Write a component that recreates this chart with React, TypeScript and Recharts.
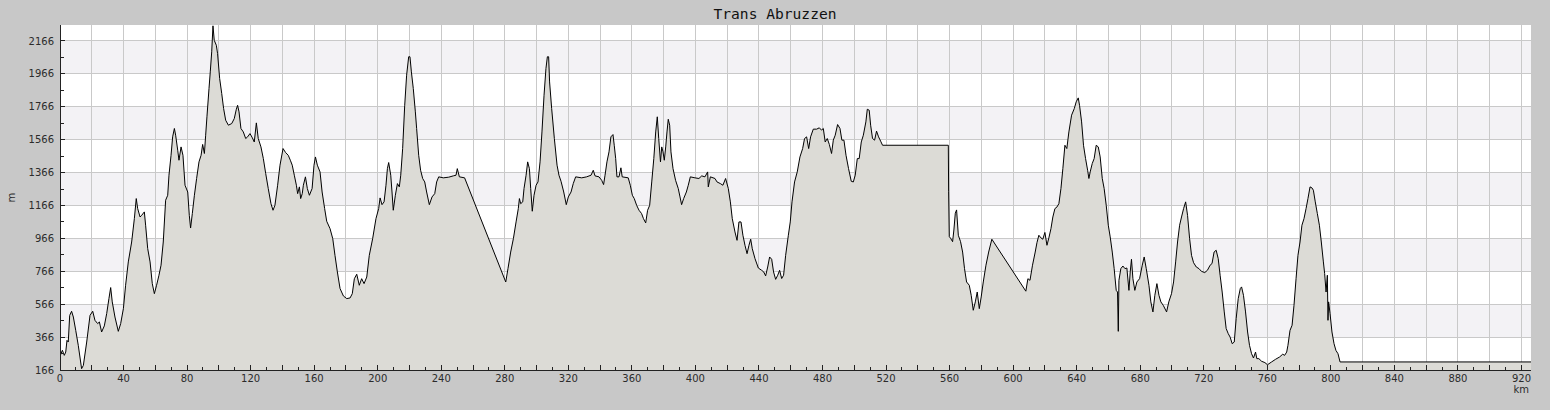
import React from 'react';
import { ComposedChart, Area, XAxis, YAxis, ReferenceArea, ReferenceLine, Label } from 'recharts';

// elevation profile: [distance km, elevation m]
const profile: [number, number][] = [
  [0, 250], [1.5, 286], [2.7, 255], [3.6, 275], [4.4, 346], [5.2, 336], [6.1, 498], [7.3, 523], [8.4, 488], [9.9, 407],
  [11.5, 316], [13.6, 174], [14.7, 194], [16.8, 336], [18.9, 498], [20.6, 523], [22.0, 468], [23.7, 448], [24.8, 458], [26.2, 397],
  [27.9, 434], [29.4, 509], [30.8, 600], [31.9, 667], [32.9, 580], [34.6, 488], [36.7, 401], [38.2, 448], [39.9, 539], [41.3, 681],
  [43.0, 823], [45.1, 944], [46.8, 1086], [48.0, 1208], [48.9, 1147], [50.4, 1096], [51.4, 1106], [53.1, 1127], [53.9, 1046], [55.2, 904],
  [56.7, 823], [58.1, 691], [59.4, 630], [60.8, 681], [62.3, 742], [63.6, 803], [65.0, 944], [66.5, 1198], [67.8, 1228], [68.6, 1350],
  [69.9, 1471], [70.9, 1583], [72.0, 1634], [72.8, 1593], [74.1, 1502], [74.9, 1441], [76.2, 1522], [77.4, 1471], [78.7, 1289], [80.4, 1248],
  [81.4, 1106], [82.2, 1029], [83.3, 1117], [84.6, 1228], [86.0, 1330], [87.5, 1431], [88.8, 1471], [89.8, 1537], [90.9, 1482], [91.7, 1593],
  [92.5, 1705], [93.8, 1877], [94.6, 1978], [95.5, 2100], [96.3, 2258], [97.1, 2170], [98.4, 2140], [99.2, 2089], [100.5, 1938], [101.8, 1847],
  [103.0, 1755], [104.3, 1684], [106.0, 1654], [108.1, 1664], [109.7, 1694], [111.0, 1751], [111.8, 1775], [112.7, 1735], [113.9, 1634], [115.4, 1613],
  [116.9, 1573], [118.1, 1583], [119.6, 1603], [121.1, 1577], [122.3, 1552], [123.6, 1668], [124.8, 1573], [126.5, 1522], [128.0, 1451], [129.5, 1360],
  [131.1, 1269], [132.8, 1177], [134.1, 1137], [135.3, 1167], [137.0, 1289], [138.5, 1411], [140.4, 1512], [142.0, 1488], [143.7, 1471], [145.0, 1441],
  [146.2, 1411], [147.5, 1350], [148.8, 1289], [149.6, 1238], [150.7, 1279], [151.5, 1208], [152.5, 1238], [153.2, 1289], [154.5, 1340], [155.7, 1269],
  [157, 1228], [158.7, 1269], [159.9, 1411], [160.8, 1461], [162, 1411], [163.7, 1370], [165, 1248], [166.6, 1147], [167.9, 1070], [170, 1025],
  [171.7, 964], [173.1, 863], [174.6, 762], [176.3, 661], [178.4, 616], [180.5, 600], [182.6, 604], [184, 630], [185.3, 721], [186.8, 748],
  [188.4, 681], [189.9, 721], [191.4, 691], [193.1, 731], [194.7, 863], [196.8, 964], [198.9, 1086], [200.6, 1147], [201.5, 1212], [202.7, 1171],
  [204, 1188], [205.2, 1289], [206.1, 1390], [206.9, 1427], [208.2, 1350], [209, 1248], [209.8, 1137], [211.1, 1228], [212.4, 1299], [213.6, 1279],
  [214.5, 1350], [215.7, 1512], [217, 1775], [218.2, 1958], [219.5, 2070], [220.3, 2070], [221.2, 1978], [222.4, 1877], [223.7, 1735], [224.5, 1634],
  [225.8, 1471], [227, 1380], [228.3, 1330], [229.6, 1309], [230.8, 1248], [232.5, 1171], [234.2, 1218], [235.9, 1238], [237.1, 1309], [238.4, 1340],
  [241.3, 1334], [244.7, 1338], [247.6, 1346], [249.3, 1350], [250.1, 1390], [251.4, 1340], [254.7, 1334], [280.6, 701], [282, 782], [283.7, 883],
  [285.4, 964], [287.1, 1066], [288.5, 1147], [289.2, 1208], [290, 1177], [291.3, 1188], [292.1, 1269], [293.4, 1350], [294.4, 1431], [295.5, 1390],
  [296.3, 1269], [297.3, 1131], [298.4, 1228], [299.7, 1289], [300.9, 1309], [302.2, 1431], [303.4, 1613], [304.7, 1836], [305.9, 1998], [306.8, 2070],
  [307.6, 2070], [308.2, 1917], [309.5, 1755], [311.2, 1573], [312.9, 1411], [314.1, 1350], [315.4, 1313], [317.1, 1248], [318.7, 1171], [320, 1218],
  [321.7, 1248], [323.1, 1299], [324.6, 1340], [328.4, 1334], [331.5, 1340], [334.3, 1350], [335.7, 1380], [336.8, 1346], [339.3, 1340], [341, 1319],
  [342.2, 1293], [343.1, 1350], [344.3, 1431], [345.6, 1492], [346.8, 1583], [348.1, 1597], [348.9, 1532], [349.8, 1451], [350.6, 1340], [351.9, 1340],
  [353.1, 1395], [353.9, 1340], [357.7, 1334], [359, 1289], [360.3, 1228], [361.5, 1208], [363, 1167], [364.5, 1137], [366.1, 1117], [367.3, 1086],
  [368.7, 1060], [369.9, 1137], [371.2, 1167], [372.5, 1309], [373.8, 1451], [375, 1613], [376, 1705], [376.9, 1573], [378, 1431], [378.8, 1522],
  [379.6, 1492], [380.4, 1441], [381.3, 1522], [382.1, 1613], [382.9, 1690], [383.8, 1654], [384.6, 1492], [385.9, 1390], [387.5, 1319], [389.2, 1269],
  [390.3, 1218], [391.3, 1171], [392.6, 1208], [394.3, 1248], [395.5, 1289], [396.8, 1340], [399.7, 1334], [402.2, 1330], [404, 1346], [406, 1340],
  [407.7, 1370], [408.1, 1279], [409.4, 1340], [412.3, 1330], [413.6, 1309], [415.7, 1299], [417.3, 1289], [419, 1330], [420.7, 1269], [422, 1188],
  [423.2, 1086], [424.9, 1005], [426.2, 954], [427.4, 1066], [428.7, 1066], [429.9, 985], [431.2, 924], [432.5, 873], [433.7, 924], [434.8, 961],
  [435.8, 903], [437.5, 843], [439.6, 786], [441.7, 772], [443, 762], [444.2, 738], [445.5, 792], [446.7, 853], [448, 839], [449.2, 762],
  [450.5, 717], [451.8, 742], [453, 772], [454.3, 722], [455.5, 742], [456.8, 863], [458.5, 985], [459.7, 1066], [460.8, 1188], [462.4, 1309],
  [464.1, 1370], [465.8, 1461], [467.5, 1512], [468.7, 1573], [470, 1583], [471.3, 1512], [472.5, 1583], [474.2, 1630], [476.3, 1630], [478, 1638],
  [479.4, 1624], [480.5, 1634], [481.7, 1552], [483, 1573], [484.3, 1537], [485.7, 1482], [486.8, 1563], [488, 1593], [489.5, 1658], [491, 1634],
  [492.2, 1563], [493.5, 1563], [494.8, 1471], [496.4, 1390], [498.1, 1313], [499.4, 1309], [500.6, 1350], [501.9, 1451], [503.1, 1451], [504.4, 1552],
  [505.7, 1593], [507.3, 1674], [508.2, 1751], [509.4, 1745], [510.3, 1654], [511.5, 1573], [512.8, 1563], [514, 1618], [515.3, 1583], [516.6, 1557],
  [517.8, 1532], [559.2, 1532], [559.4, 1249], [559.8, 977], [560.6, 967], [561.9, 946], [562.7, 1017], [563.6, 1119], [564.4, 1139], [565.5, 985],
  [566.9, 946], [568.2, 883], [569.4, 782], [570.7, 701], [572.4, 681], [573.6, 620], [574.9, 529], [576.2, 580], [577.4, 640], [578.7, 539],
  [579.9, 610], [581.2, 701], [582.9, 803], [584.6, 883], [586.6, 961], [608, 645], [609.3, 721], [610.6, 711], [612.2, 803], [613.9, 883],
  [615, 940], [616.2, 985], [617.5, 969], [618.7, 961], [620, 1002], [621.3, 924], [622.5, 969], [623.8, 1025], [625, 1096], [626.3, 1147],
  [627.6, 1157], [628.8, 1177], [630.1, 1269], [631.3, 1390], [632.6, 1532], [633.8, 1512], [635.1, 1613], [636.8, 1715], [638.5, 1755], [639.7, 1796],
  [641, 1820], [641.8, 1775], [643.1, 1674], [644.3, 1532], [645.6, 1451], [646.9, 1380], [647.7, 1330], [648.5, 1370], [649.8, 1421], [651, 1451],
  [652.3, 1532], [653.6, 1522], [654.8, 1461], [656.1, 1330], [657.3, 1269], [658.6, 1167], [659.9, 1046], [661.1, 975], [662.4, 883], [663.6, 782],
  [664.9, 650], [665.7, 640], [666.2, 401], [666.6, 711], [667.8, 782], [669.1, 798], [670.4, 782], [671.6, 786], [672.9, 650], [673.7, 762],
  [674.5, 839], [675.4, 721], [676.6, 650], [677.9, 701], [679.6, 721], [681.3, 803], [682.5, 853], [683.8, 782], [685.5, 681], [686.7, 580],
  [688, 519], [689.2, 620], [690.5, 691], [691.8, 620], [693, 580], [694.5, 559], [696.6, 519], [698, 580], [699.7, 630], [701, 701],
  [702.3, 823], [703.5, 944], [704.8, 1046], [706, 1096], [707.3, 1147], [708.6, 1188], [709.8, 1106], [711.1, 964], [712.3, 863], [713.6, 818],
  [715.3, 792], [717, 782], [718.5, 766], [720.6, 758], [722.3, 772], [724, 803], [725.2, 813], [726.5, 883], [727.8, 894], [729.1, 843],
  [730.3, 742], [731.6, 640], [732.9, 519], [734.1, 418], [735.4, 387], [736.6, 366], [737.9, 326], [739.2, 336], [740.4, 478], [741.7, 600],
  [743, 661], [743.8, 671], [745, 620], [746.3, 519], [747.6, 397], [748.8, 316], [750.1, 265], [751.3, 239], [752.6, 275], [753.4, 235],
  [754.7, 235], [756.4, 219], [758.5, 211], [760.1, 198], [762.7, 215], [765.2, 231], [767.7, 245], [769.7, 262], [770.9, 255], [772.2, 275],
  [773, 316], [774.3, 407], [775.6, 438], [776.8, 559], [778.1, 721], [779.3, 863], [780.6, 944], [781.8, 1046], [783.1, 1086], [784.4, 1147],
  [785.6, 1208], [786.9, 1279], [788.1, 1273], [789, 1259], [790.2, 1188], [791.5, 1117], [792.8, 1046], [794, 944], [795.3, 823], [796.1, 752],
  [797, 640], [797.8, 742], [798.2, 468], [798.6, 580], [799.5, 509], [800.7, 397], [802, 326], [803.2, 285], [804.5, 265], [805.8, 215],
  [926, 215],
];

const yTicks = [166, 266, 366, 466, 566, 666, 766, 866, 966, 1066, 1166, 1266, 1366, 1466, 1566, 1666, 1766, 1866, 1966, 2066, 2166];
const yTickLabels = [166, 366, 566, 766, 966, 1166, 1366, 1566, 1766, 1966, 2166];
const xTicks = [
  0, 10, 20, 30, 40, 50, 60, 70, 80, 90, 100, 110, 120, 130, 140, 150, 160, 170, 180, 190, 200, 210, 220, 230, 240, 250,
  260, 270, 280, 290, 300, 310, 320, 330, 340, 350, 360, 370, 380, 390, 400, 410, 420, 430, 440, 450, 460, 470, 480, 490,
  500, 510, 520, 530, 540, 550, 560, 570, 580, 590, 600, 610, 620, 630, 640, 650, 660, 670, 680, 690, 700, 710, 720, 730,
  740, 750, 760, 770, 780, 790, 800, 810, 820, 830, 840, 850, 860, 870, 880, 890, 900, 910, 920,
];
const xTickLabels = [0, 40, 80, 120, 160, 200, 240, 280, 320, 360, 400, 440, 480, 520, 560, 600, 640, 680, 720, 760, 800, 840, 880, 920];
const xGrid = [20, 40, 60, 80, 100, 120, 140, 160, 180, 200, 220, 240, 260, 280, 300, 320, 340, 360, 380, 400, 420, 440, 460, 480, 500,
  520, 540, 560, 580, 600, 620, 640, 660, 680, 700, 720, 740, 760, 780, 800, 820, 840, 860, 880, 900, 920];
const yGrid = [366, 566, 766, 966, 1166, 1366, 1566, 1766, 1966, 2166];
const shadedBands: [number, number][] = [[366, 566], [766, 966], [1166, 1366], [1566, 1766], [1966, 2166]];
const xDomain: [number, number] = [0, 926];
const yDomain: [number, number] = [166, 2263];

const title = 'Trans Abruzzen';
const xUnit = 'km';
const yUnit = 'm';

const data = profile.map(([km, m]) => ({ km, m }));

const FONT = '"DejaVu Sans", sans-serif';
const TEXT = '#2b2b2b';
const AXIS = '#222222';

const YTick = (props: any) => {
  const { x, y, payload } = props;
  const v = payload.value;
  const major = yTickLabels.includes(v);
  return (
    <g>
      <line x1={x} x2={x + (major ? 5 : 4)} y1={y} y2={y} stroke={AXIS} shapeRendering="crispEdges" />
      {major && (
        <text x={x - 6} y={y + 3.6} textAnchor="end" fontSize={10} fontFamily={FONT} fill={TEXT}>{v}</text>
      )}
    </g>
  );
};

const XTick = (props: any) => {
  const { x, y, payload } = props;
  const v = payload.value;
  const major = v % 20 === 0;
  const labeled = xTickLabels.includes(v);
  return (
    <g>
      <line x1={x} x2={x} y1={y} y2={y - (major ? 5 : 3)} stroke={AXIS} shapeRendering="crispEdges" />
      {labeled && (
        <text x={x} y={y + 12} textAnchor="middle" fontSize={10} fontFamily={FONT} fill={TEXT}>{v}</text>
      )}
    </g>
  );
};

export default function App() {
  return (
    <div style={{ position: 'absolute', left: 0, top: 0, width: 1550, height: 410, background: '#c8c8c8', overflow: 'hidden' }}>
      <ComposedChart
        width={1550}
        height={410}
        data={data}
        margin={{ top: 25, right: 19, bottom: 0, left: 0 }}
      >
        <ReferenceArea x1={xDomain[0]} x2={xDomain[1]} y1={yDomain[0]} y2={yDomain[1]} fill="#ffffff" fillOpacity={1} stroke="none" ifOverflow="hidden" zIndex={-95} />
        {shadedBands.map(([a, b]) => (
          <ReferenceArea key={`band-${a}`} y1={a} y2={b} fill="#f3f2f5" fillOpacity={1} stroke="none" ifOverflow="hidden" zIndex={-90} />
        ))}
        {yGrid.map((v) => (
          <ReferenceLine key={`gy-${v}`} y={v} stroke="#c9c9c9" strokeWidth={1} shapeRendering="crispEdges" zIndex={-80} />
        ))}
        {xGrid.map((v) => (
          <ReferenceLine key={`gx-${v}`} x={v} stroke="#c9c9c9" strokeWidth={1} shapeRendering="crispEdges" zIndex={-80} />
        ))}
        <XAxis
          dataKey="km"
          type="number"
          domain={xDomain}
          ticks={xTicks}
          interval={0}
          height={40}
          tickSize={0}
          tickMargin={0}
          tickLine={false}
          axisLine={{ stroke: AXIS, shapeRendering: 'crispEdges' }}
          tick={<XTick />}
          allowDataOverflow
        >
          <Label
            content={(p: any) => {
              const vb = p.viewBox || { x: 60, y: 370, width: 1471 };
              return (
                <text x={vb.x + vb.width - 2} y={vb.y + 23} textAnchor="end" fontSize={10} fontFamily={FONT} fill={TEXT}>{xUnit}</text>
              );
            }}
          />
        </XAxis>
        <YAxis
          type="number"
          domain={yDomain}
          ticks={yTicks}
          interval={0}
          width={60}
          tickSize={0}
          tickMargin={0}
          tickLine={false}
          axisLine={{ stroke: AXIS, shapeRendering: 'crispEdges' }}
          tick={<YTick />}
          allowDataOverflow
        >
          <Label
            content={(p: any) => {
              const vb = p.viewBox || { x: 0, y: 25, height: 345 };
              const cx = vb.x + 11;
              const cy = vb.y + vb.height / 2;
              return (
                <text x={cx} y={cy} transform={`rotate(-90 ${cx} ${cy})`} textAnchor="middle" dominantBaseline="central" fontSize={10} fontFamily={FONT} fill={TEXT}>{yUnit}</text>
              );
            }}
          />
        </YAxis>
        <Area
          type="linear"
          dataKey="m"
          stroke="#000000"
          strokeWidth={1}
          fill="#dcdbd6"
          fillOpacity={1}
          isAnimationActive={false}
          dot={false}
          activeDot={false}
        />
      </ComposedChart>
      <svg width={1550} height={25} style={{ position: 'absolute', left: 0, top: 0 }}>
        <text x={775} y={19} textAnchor="middle" fontSize={14.6} fontFamily='"DejaVu Sans Mono", monospace' fill="#111">{title}</text>
      </svg>
    </div>
  );
}
